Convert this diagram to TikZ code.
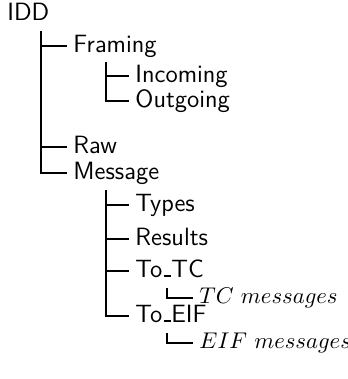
\documentclass[tikz,border=0pt]{standalone}
% underscore drawn as a short bar, as plain TeX does
\newcommand{\usbar}{\leavevmode\kern.06em\vbox{\hrule height .08em width .3em}}
\begin{document}
\begin{tikzpicture}[x=0.44pt,y=-0.44pt,
  lbl/.style={anchor=west,inner sep=0pt,font=\sffamily\fontsize{11}{13}\selectfont,text height=7.7pt,text depth=2.2pt},
  leaf/.style={anchor=west,inner sep=0pt,font=\fontsize{9.6}{12}\selectfont,text height=6.7pt,text depth=1.9pt},
  branch/.style={line width=1.3pt},
  twig/.style={line width=0.6pt}]
\useasboundingbox (0,0) rectangle (348,379);
% entries
\node[lbl] (idd) at (7,14) {IDD};
\node[lbl] (fr) at (73,46) {Framing};
\node[lbl] (inc) at (135,76) {Incoming};
\node[lbl] (out) at (135,101) {Outgoing};
\node[lbl] (raw) at (73,147) {Raw};
\node[lbl] (msg) at (73,173) {Message};
\node[lbl] (ty) at (135,205) {Types};
\node[lbl] (res) at (135,239) {Results};
\node[lbl] (tc) at (135,271) {To\usbar TC};
\node[lbl] (eif) at (135,316) {To\usbar EIF};
\node[leaf] (tcm) at (199,298) {$TC\ messages$};
\node[leaf] (eifm) at (199,343) {$EIF\ messages$};
% stems below each parent
\coordinate (idd-stem) at (41,31);
\coordinate (fr-stem) at (106,62);
\coordinate (msg-stem) at (106,190);
\coordinate (tc-stem) at (167,288);
\coordinate (eif-stem) at (167,333);
% branches
\draw[branch] (idd-stem) |- ([xshift=-2.6pt]msg.west);
\draw[branch] (idd-stem |- fr.west) -- ([xshift=-2.6pt]fr.west);
\draw[branch] (idd-stem |- raw.west) -- ([xshift=-2.6pt]raw.west);
\draw[branch] (fr-stem) |- ([xshift=-2.6pt]out.west);
\draw[branch] (fr-stem |- inc.west) -- ([xshift=-2.6pt]inc.west);
\draw[branch] (msg-stem) |- ([xshift=-2.6pt]eif.west);
\draw[branch] (msg-stem |- ty.west) -- ([xshift=-2.6pt]ty.west);
\draw[branch] (msg-stem |- res.west) -- ([xshift=-2.6pt]res.west);
\draw[branch] (msg-stem |- tc.west) -- ([xshift=-2.6pt]tc.west);
\draw[twig] (tc-stem) |- ([xshift=-2.8pt]tcm.west);
\draw[twig] (eif-stem) |- ([xshift=-2.8pt]eifm.west);
\end{tikzpicture}
\end{document}
